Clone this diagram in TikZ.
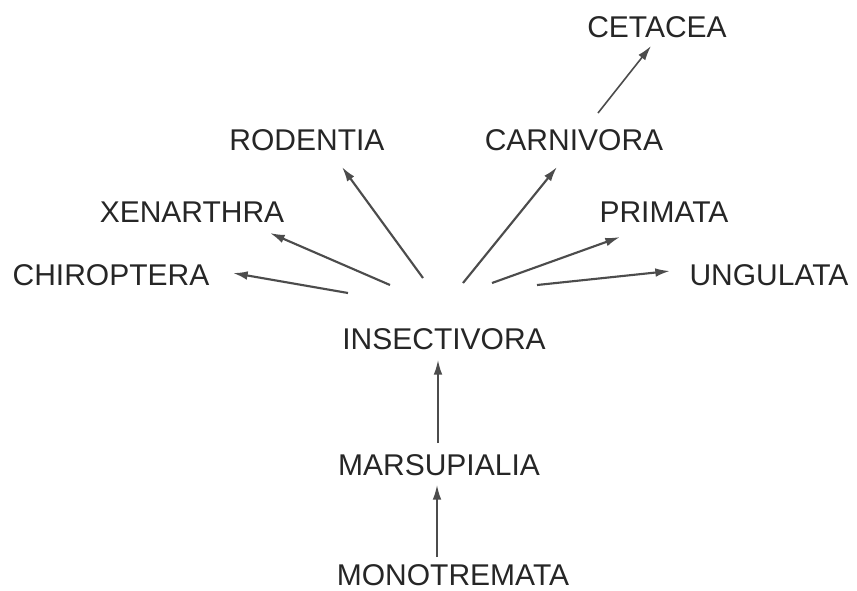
\documentclass[tikz,border=0pt]{standalone}
\usepackage{fontspec}
\setmainfont{Liberation Sans}
\usetikzlibrary{arrows.meta}
\begin{document}
\begin{tikzpicture}[x=0.75pt,y=-0.75pt,
  lbl/.style={font=\fontsize{22.5}{26}\selectfont, inner sep=0pt, text=black!85},
  arr/.style={draw=black!70, line width=1.6pt, -{Latex[length=11pt,width=6.5pt]}}]
\useasboundingbox (0,0) rectangle (857,590);
\node[lbl] (cet) at (657,27) {CETACEA};
\node[lbl] (rod) at (307,140) {RODENTIA};
\node[lbl] (car) at (574,140) {CARNIVORA};
\node[lbl] (xen) at (192,212) {XENARTHRA};
\node[lbl] (pri) at (664,212) {PRIMATA};
\node[lbl] (chi) at (111,275) {CHIROPTERA};
\node[lbl] (ung) at (769,275) {UNGULATA};
\node[lbl] (ins) at (444,339) {INSECTIVORA};
\node[lbl] (mar) at (439,465) {MARSUPIALIA};
\node[lbl] (mon) at (453,575) {MONOTREMATA};
% arrow ends
\coordinate (rodA) at (423,278); \coordinate (rodB) at (342,167);
\coordinate (xenA) at (390,285); \coordinate (xenB) at (270,233);
\coordinate (chiA) at (348,293); \coordinate (chiB) at (233,273);
\coordinate (carA) at (463,283); \coordinate (carB) at (557,167);
\coordinate (priA) at (492,283); \coordinate (priB) at (620,237);
\coordinate (ungA) at (537,285); \coordinate (ungB) at (670,271);
\coordinate (cetA) at (598,113); \coordinate (cetB) at (651,46);
\coordinate (marA) at (438,443); \coordinate (marB) at (438,360);
\coordinate (monA) at (437,557); \coordinate (monB) at (437,485);
\draw[arr] (rodA) -- (rodB);
\draw[arr] (xenA) -- (xenB);
\draw[arr] (chiA) -- (chiB);
\draw[arr] (carA) -- (carB);
\draw[arr] (priA) -- (priB);
\draw[arr] (ungA) -- (ungB);
\draw[arr, line width=1.2pt] (cetA) -- (cetB);
\draw[arr, line width=1.2pt] (marA) -- (marB);
\draw[arr, line width=1.2pt] (monA) -- (monB);
\end{tikzpicture}
\end{document}
